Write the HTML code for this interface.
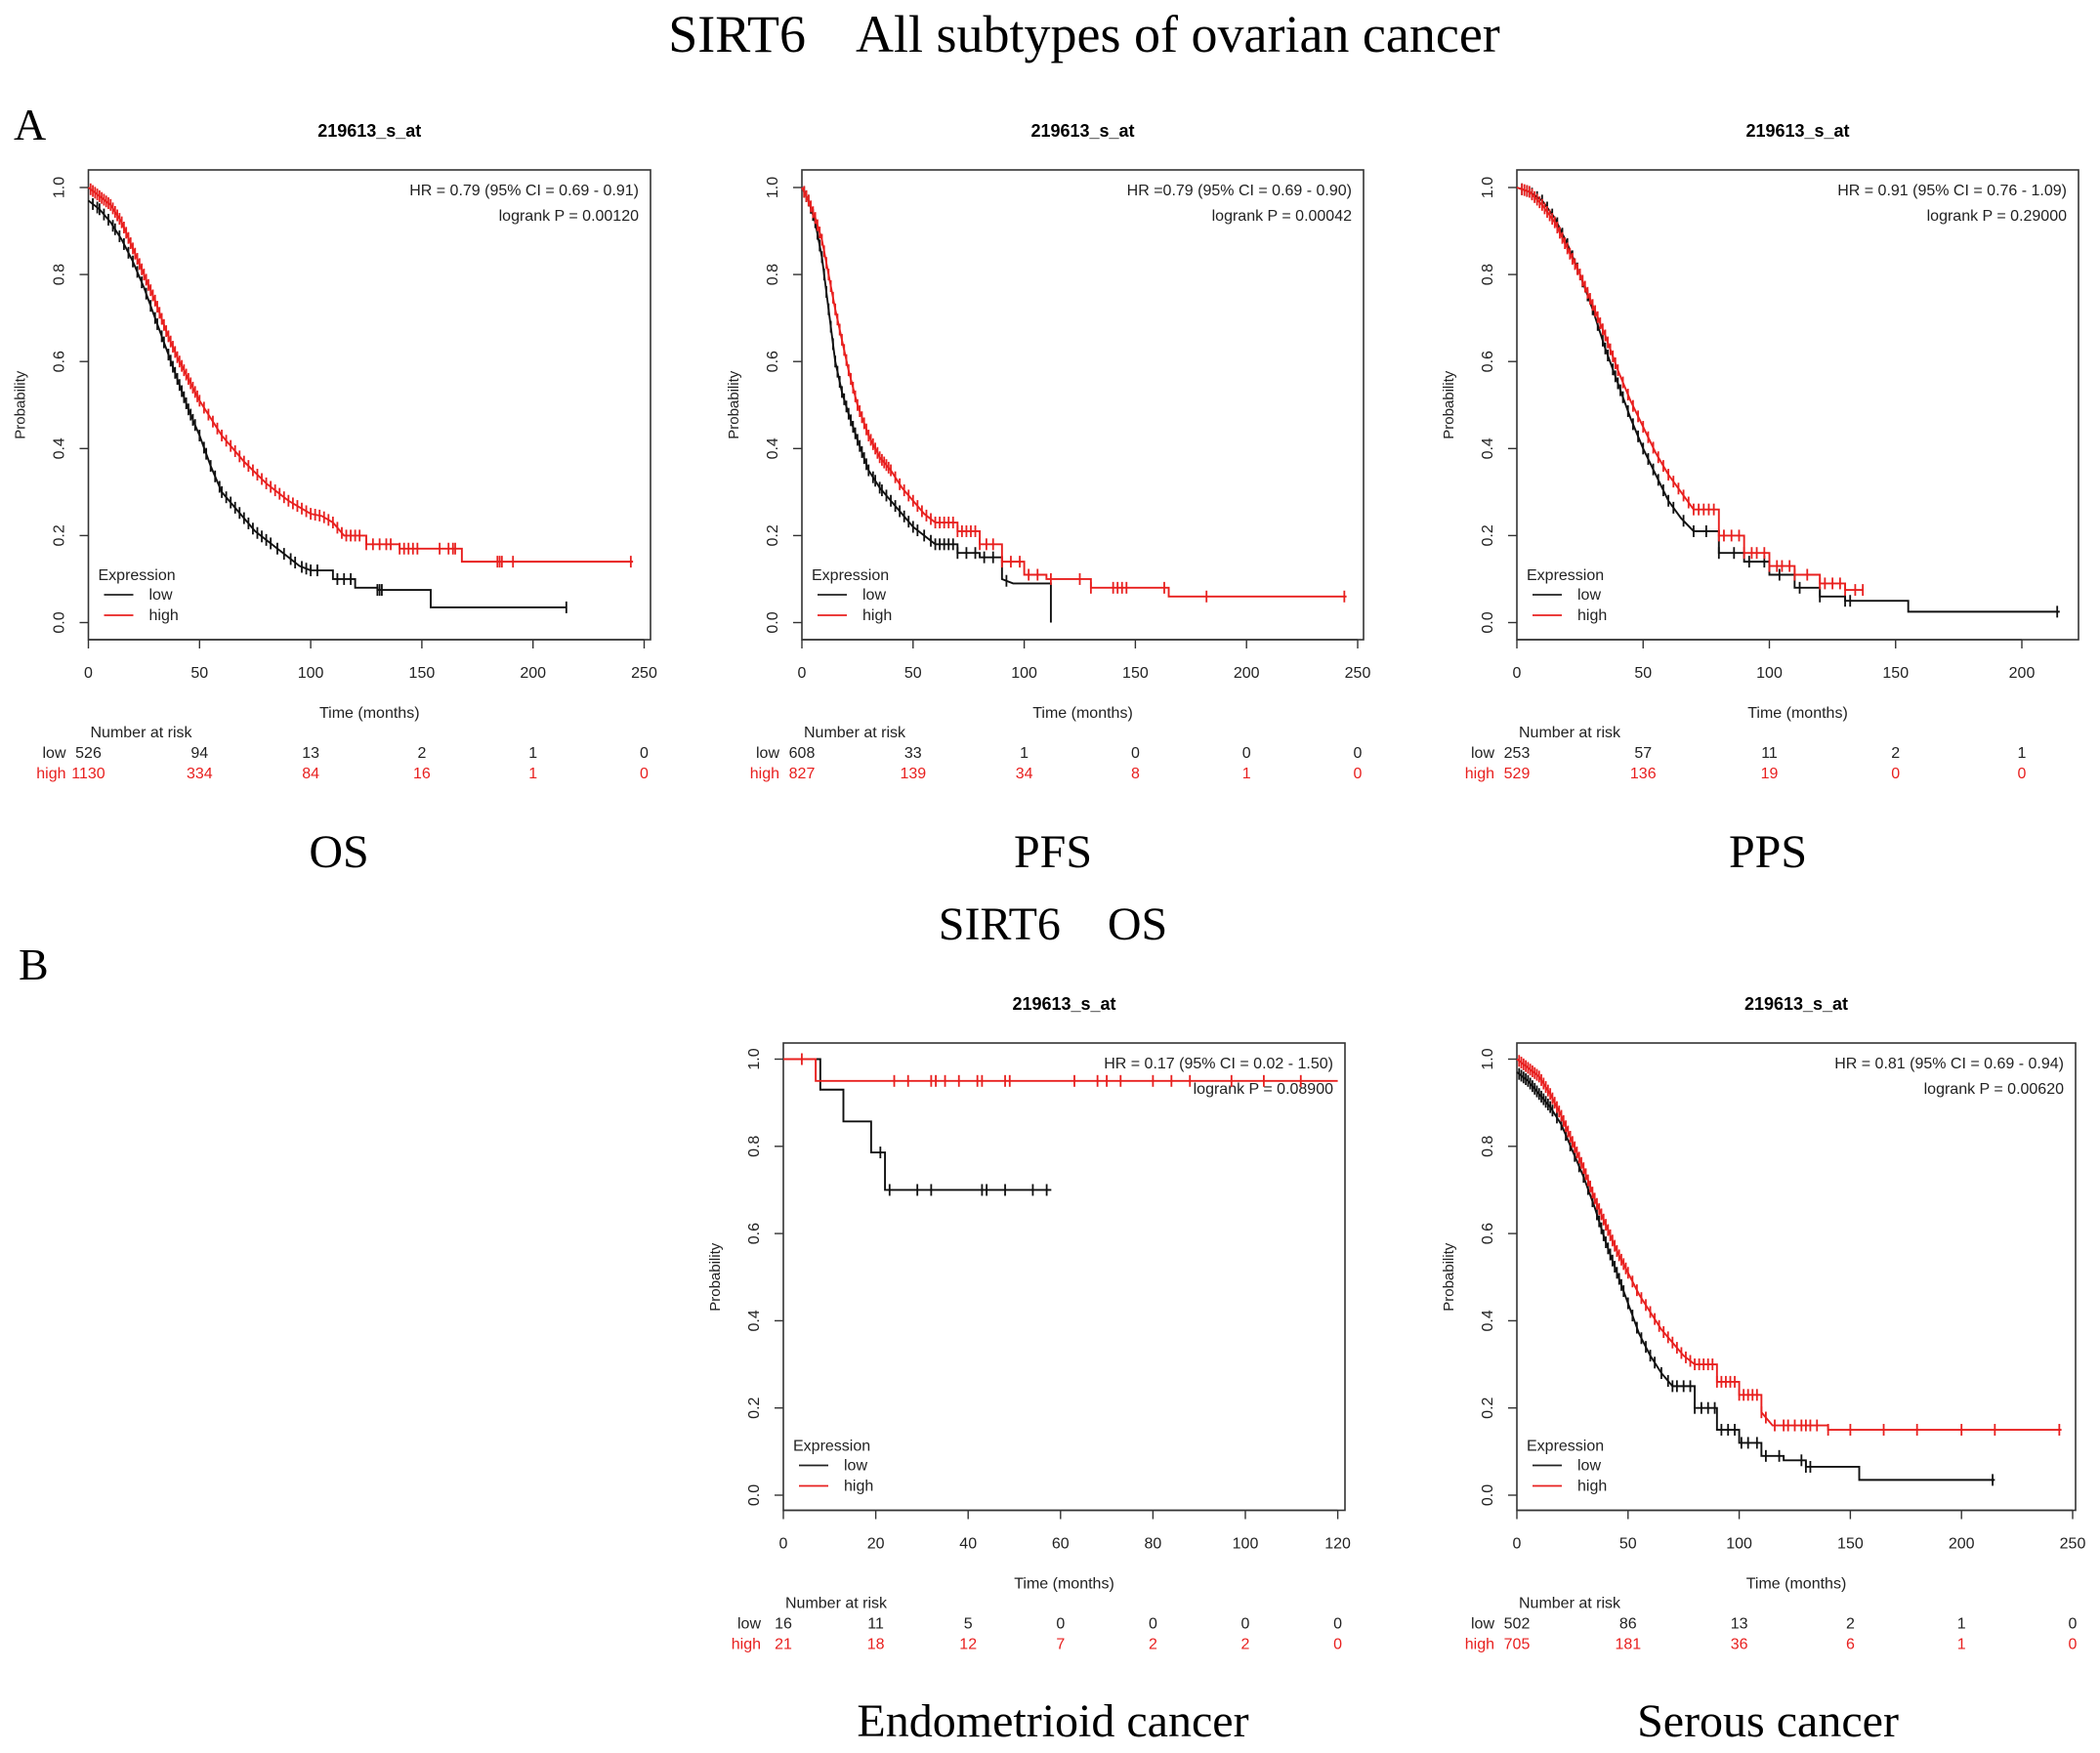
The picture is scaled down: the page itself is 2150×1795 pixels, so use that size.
<!DOCTYPE html>
<html><head><meta charset="utf-8"><style>
html,body{margin:0;padding:0;background:#fff}
svg{display:block}
text{font-family:"Liberation Sans",Arial,sans-serif}
.serif{font-family:"Liberation Serif","Times New Roman",serif;white-space:pre}
</style></head><body>
<svg id="fig" xmlns="http://www.w3.org/2000/svg" width="2150" height="1795" viewBox="0 0 2150 1795" xml:space="preserve">
<text class="serif" x="1110" y="53" font-size="54" text-anchor="middle">SIRT6    All subtypes of ovarian cancer</text>
<text class="serif" x="14" y="143" font-size="46">A</text>
<text class="serif" x="347" y="888" font-size="48" text-anchor="middle">OS</text>
<text class="serif" x="1078" y="888" font-size="48" text-anchor="middle">PFS</text>
<text class="serif" x="1810" y="888" font-size="48" text-anchor="middle">PPS</text>
<text class="serif" x="1078" y="962" font-size="48" text-anchor="middle">SIRT6    OS</text>
<text class="serif" x="19" y="1003" font-size="46">B</text>
<text class="serif" x="1078" y="1778" font-size="48" text-anchor="middle">Endometrioid cancer</text>
<text class="serif" x="1810" y="1778" font-size="48" text-anchor="middle">Serous cancer</text>
</svg>
<script>
// ---- OS ----
const osLowT=[0,5,10,15,20,25,30,35,40,45,50,55,60,65,70,75,80,85,90,95,100,110,120,130,154];
const osLowS=[0.97,0.95,0.92,0.88,0.83,0.77,0.70,0.63,0.56,0.49,0.43,0.36,0.30,0.27,0.24,0.21,0.19,0.17,0.15,0.13,0.12,0.10,0.08,0.075,0.035];
const osLowEnd=215;
const osLowC=[2,4,5,7,9,11,12,14,16,18,20,22,24,26,28,30,31,33,34,36,37,38,39,40,41,42,43,44,45,46,47,48,50,52,53,55,57,59,60,62,64,66,68,70,72,74,76,78,80,82,85,88,91,93,96,98,100,103,112,115,118,130,131,132,215];
const osHighT=[0,5,10,15,20,25,30,35,40,45,50,55,60,65,70,75,80,85,90,95,100,105,110,115,125,140,168];
const osHighS=[1.0,0.98,0.96,0.92,0.86,0.80,0.74,0.67,0.61,0.56,0.51,0.47,0.43,0.40,0.37,0.345,0.32,0.30,0.28,0.265,0.25,0.245,0.23,0.20,0.18,0.17,0.14];
const osHighEnd=245;
const osHighC=[1,2,3,4,5,6,7,8,9,10,11,12,13,14,15,16,17,18,19,20,21,22,23,24,25,26,27,28,29,30,31,32,33,34,35,36,37,38,39,40,41,42,43,44,45,46,47,48,49,50,52,54,56,58,60,62,64,66,68,70,72,74,76,78,80,82,84,86,88,90,92,94,96,98,100,102,104,106,108,110,112,114,116,118,120,122,125,128,131,134,136,140,142,144,146,148,158,162,164,165,184,185,186,191,244];
const osTicks=[0,50,100,150,200,250];
const osRiskLow=["526","94","13","2","1","0"];
const osRiskHigh=["1130","334","84","16","1","0"];
// ---- PFS ----
const pfsLowT=[0,3,6,9,12,15,18,21,25,30,35,40,45,50,55,60,70,80,90,95,112];
const pfsLowS=[1.0,0.97,0.92,0.84,0.72,0.60,0.53,0.48,0.42,0.35,0.31,0.28,0.25,0.22,0.20,0.18,0.16,0.15,0.10,0.09,0.0];
const pfsLowEnd=112;
const pfsLowC=[1,2,3,4,5,6,7,8,9,10,11,12,13,14,15,16,17,18,19,20,21,22,23,24,25,26,27,28,29,30,32,33,35,36,38,40,42,44,46,48,50,52,55,58,60,62,64,66,68,70,74,78,82,86,92];
const pfsHighT=[0,3,6,9,12,15,18,21,25,30,35,40,45,50,55,60,70,80,90,100,110,130,165];
const pfsHighS=[1.0,0.97,0.93,0.88,0.80,0.72,0.65,0.58,0.50,0.43,0.38,0.35,0.31,0.28,0.25,0.23,0.21,0.18,0.14,0.11,0.10,0.08,0.06];
const pfsHighEnd=245;
const pfsHighC=[1,2,3,4,5,6,7,8,9,10,11,12,13,14,15,16,17,18,19,20,21,22,23,24,25,26,27,28,29,30,31,32,33,34,35,36,37,38,39,40,42,44,46,48,50,52,54,56,58,60,62,64,66,68,70,72,74,76,78,80,83,86,90,94,98,102,106,112,125,130,140,142,144,146,163,182,244];
const pfsTicks=[0,50,100,150,200,250];
const pfsRiskLow=["608","33","1","0","0","0"];
const pfsRiskHigh=["827","139","34","8","1","0"];
// ---- PPS ----
const ppsLowT=[0,5,10,15,20,25,30,35,40,45,50,55,60,65,70,80,90,100,110,120,130,155];
const ppsLowS=[1.0,0.99,0.97,0.93,0.87,0.80,0.72,0.63,0.55,0.47,0.40,0.34,0.28,0.24,0.21,0.16,0.14,0.11,0.08,0.06,0.05,0.025];
const ppsLowEnd=215;
const ppsLowC=[2,4,6,8,10,12,14,16,18,20,22,24,26,28,30,32,34,35,36,38,39,40,41,42,44,46,48,50,52,54,56,58,60,62,66,70,75,80,86,92,98,104,112,120,130,132,214];
const ppsHighT=[0,5,10,15,20,25,30,35,40,45,50,55,60,65,70,80,90,100,110,120,130];
const ppsHighS=[1.0,0.99,0.96,0.92,0.86,0.80,0.73,0.66,0.58,0.51,0.45,0.39,0.34,0.30,0.26,0.20,0.16,0.13,0.11,0.09,0.075];
const ppsHighEnd=137;
const ppsHighC=[2,3,4,5,6,7,8,9,10,11,12,13,14,15,16,17,18,19,20,21,22,23,24,25,26,27,28,29,30,31,32,33,34,35,36,37,38,39,40,42,44,46,48,50,52,54,56,58,60,62,64,66,68,70,72,74,76,78,80,82,85,88,90,93,95,98,100,103,105,108,110,115,120,122,125,128,130,134,137];
const ppsTicks=[0,50,100,150,200];
const ppsRiskLow=["253","57","11","2","1"];
const ppsRiskHigh=["529","136","19","0","0"];
// ---- Endometrioid ----
const enLowT=[0,8,13,19,22];
const enLowS=[1.0,0.93,0.857,0.786,0.70];
const enLowEnd=58;
const enLowC=[21,23,29,32,43,44,48,54,57];
const enHighT=[0,7];
const enHighS=[1.0,0.95];
const enHighEnd=120;
const enHighC=[4,24,27,32,33,35,38,42,43,48,49,63,68,70,73,80,84,88,97,104,112];
const enTicks=[0,20,40,60,80,100,120];
const enRiskLow=["16","11","5","0","0","0","0"];
const enRiskHigh=["21","18","12","7","2","2","0"];
// ---- Serous ----
const seLowT=[0,5,10,15,20,25,30,35,40,45,50,55,60,65,70,80,90,100,110,120,130,154];
const seLowS=[0.97,0.95,0.92,0.89,0.85,0.79,0.73,0.66,0.58,0.51,0.44,0.37,0.32,0.28,0.25,0.20,0.15,0.12,0.09,0.08,0.065,0.035];
const seLowEnd=215;
const seLowC=[1,2,3,4,5,6,7,8,9,10,11,12,13,14,15,16,18,20,22,24,26,28,30,32,34,36,37,38,39,40,41,42,43,44,45,46,47,48,50,52,54,56,58,60,62,65,68,70,72,75,78,80,83,86,89,92,95,98,101,104,108,112,118,128,130,132,214];
const seHighT=[0,5,10,15,20,25,30,35,40,45,50,55,60,65,70,75,80,90,100,110,115,140];
const seHighS=[1.0,0.98,0.96,0.92,0.87,0.81,0.75,0.68,0.62,0.56,0.51,0.46,0.42,0.38,0.35,0.32,0.30,0.26,0.23,0.19,0.16,0.15];
const seHighEnd=245;
const seHighC=[1,2,3,4,5,6,7,8,9,10,11,12,13,14,15,16,17,18,19,20,21,22,23,24,25,26,27,28,29,30,31,32,33,34,35,36,37,38,39,40,41,42,43,44,45,46,47,48,49,50,52,54,56,58,60,62,64,66,68,70,72,74,76,78,80,82,84,86,88,90,92,94,96,98,100,102,104,106,108,110,112,116,120,122,125,128,130,132,135,140,150,165,180,200,215,244];
const seTicks=[0,50,100,150,200,250];
const seRiskLow=["502","86","13","2","1","0"];
const seRiskHigh=["705","181","36","6","1","0"];
const yTicks=[0,0.2,0.4,0.6,0.8,1.0];
const yTickLabels=["0.0","0.2","0.4","0.6","0.8","1.0"];

const NS='http://www.w3.org/2000/svg';
const svg=document.getElementById('fig');
function mk(tag,attrs,parent){const e=document.createElementNS(NS,tag);for(const k in attrs)e.setAttribute(k,attrs[k]);(parent||svg).appendChild(e);return e;}

const panels=[
 {id:'os',smooth:true,L:90.5,T:174,R:666,B:655,y1:192,y0:637.5,x0:90.5,xs:2.276,ticks:osTicks,rl:osRiskLow,rh:osRiskHigh,
  low:[osLowT,osLowS,osLowEnd,osLowC],high:[osHighT,osHighS,osHighEnd,osHighC],hr:'HR = 0.79 (95% CI = 0.69 - 0.91)',p:'logrank P =  0.00120'},
 {id:'pfs',smooth:true,L:821,T:174,R:1396,B:655,y1:192,y0:637.5,x0:821,xs:2.276,ticks:pfsTicks,rl:pfsRiskLow,rh:pfsRiskHigh,
  low:[pfsLowT,pfsLowS,pfsLowEnd,pfsLowC],high:[pfsHighT,pfsHighS,pfsHighEnd,pfsHighC],hr:'HR =0.79 (95% CI = 0.69 - 0.90)',p:'logrank P = 0.00042'},
 {id:'pps',smooth:true,L:1553,T:174,R:2128,B:655,y1:192,y0:637.5,x0:1553,xs:2.585,ticks:ppsTicks,rl:ppsRiskLow,rh:ppsRiskHigh,
  low:[ppsLowT,ppsLowS,ppsLowEnd,ppsLowC],high:[ppsHighT,ppsHighS,ppsHighEnd,ppsHighC],hr:'HR = 0.91 (95% CI = 0.76 - 1.09)',p:'logrank P =  0.29000'},
 {id:'endometrioid',smooth:false,L:802,T:1068,R:1377,B:1546.5,y1:1084.5,y0:1531,x0:802,xs:4.73,ticks:enTicks,rl:enRiskLow,rh:enRiskHigh,
  low:[enLowT,enLowS,enLowEnd,enLowC],high:[enHighT,enHighS,enHighEnd,enHighC],hr:'HR = 0.17 (95% CI = 0.02 - 1.50)',p:'logrank P =  0.08900'},
 {id:'serous',smooth:true,L:1553,T:1068,R:2125,B:1546.5,y1:1084.5,y0:1531,x0:1553,xs:2.276,ticks:seTicks,rl:seRiskLow,rh:seRiskHigh,
  low:[seLowT,seLowS,seLowEnd,seLowC],high:[seHighT,seHighS,seHighEnd,seHighC],hr:'HR = 0.81 (95% CI = 0.69 - 0.94)',p:'logrank P =  0.00620'}
];

function valAt(T,S,t,smooth){
 let i=0;while(i+1<T.length&&T[i+1]<=t)i++;
 if(smooth&&i+1<T.length&&T[i+1]-T[i]<8){const f=(t-T[i])/(T[i+1]-T[i]);return S[i]+(S[i+1]-S[i])*f;}
 return S[i];
}

panels.forEach(P=>{
 const g=mk('g',{});
 
 
 const X=v=>P.x0+v*P.xs, Y=v=>P.y0-(P.y0-P.y1)*v;
 const cx=(P.L+P.R)/2;
 const t=mk('text',{x:cx,y:P.T-34,'font-size':18,'font-weight':'bold','text-anchor':'middle'},g);t.textContent='219613_s_at';
 
 const box=mk('rect',{x:P.L,y:P.T,width:P.R-P.L,height:P.B-P.T,fill:'none',stroke:'#333','stroke-width':1.6},g);
 
 yTicks.forEach((v,i)=>{
  const l=mk('line',{x1:P.L,x2:P.L-9,y1:Y(v),y2:Y(v),stroke:'#333','stroke-width':1.4},g);
  
  const tx=mk('text',{x:0,y:0,'font-size':16,'text-anchor':'middle',fill:'#222',transform:`translate(${P.L-25},${Y(v)}) rotate(-90)`},g);
  tx.textContent=yTickLabels[i];
  
 });
 const yl=mk('text',{x:0,y:0,'font-size':15,'text-anchor':'middle',fill:'#222',transform:`translate(${P.L-65},${(P.y0+P.y1)/2}) rotate(-90)`},g);
 yl.textContent='Probability';
 const xa=mk('line',{x1:X(P.ticks[0]),x2:X(P.ticks[P.ticks.length-1]),y1:P.B,y2:P.B,stroke:'#333','stroke-width':1.4},g);
 
 P.ticks.forEach((v,i)=>{
  const l=mk('line',{x1:X(v),x2:X(v),y1:P.B,y2:P.B+9,stroke:'#333','stroke-width':1.4},g);
  
  const tx=mk('text',{x:X(v),y:P.B+39,'font-size':16,'text-anchor':'middle',fill:'#222'},g);tx.textContent=String(v);
  
  const a=mk('text',{x:X(v),y:P.B+121,'font-size':16,'text-anchor':'middle',fill:'#222'},g);a.textContent=P.rl[i];
  
  const b=mk('text',{x:X(v),y:P.B+142,'font-size':16,'text-anchor':'middle',fill:'#e8201f'},g);b.textContent=P.rh[i];
  
 });
 const xt=mk('text',{x:cx,y:P.B+80,'font-size':16,'text-anchor':'middle',fill:'#222'},g);xt.textContent='Time (months)';
 
 const nr=mk('text',{x:P.L+2,y:P.B+100,'font-size':16,fill:'#222'},g);nr.textContent='Number at risk';
 
 const lw=mk('text',{x:P.L-23,y:P.B+121,'font-size':16,'text-anchor':'end',fill:'#222'},g);lw.textContent='low';
 
 const hg=mk('text',{x:P.L-23,y:P.B+142,'font-size':16,'text-anchor':'end',fill:'#e8201f'},g);hg.textContent='high';
 
 const h1=mk('text',{x:P.R-12,y:P.T+26,'font-size':16,'text-anchor':'end',fill:'#222'},g);h1.textContent=P.hr;
 
 const h2=mk('text',{x:P.R-12,y:P.T+52,'font-size':16,'text-anchor':'end',fill:'#222'},g);h2.textContent=P.p;
 
 const le=mk('text',{x:P.L+10,y:P.B-61,'font-size':16,fill:'#222'},g);le.textContent='Expression';
 
 [['low','#222',-41],['high','#e8201f',-20]].forEach(([n,c,dy])=>{
  const l=mk('line',{x1:P.L+16,x2:P.L+46,y1:P.B+dy-5,y2:P.B+dy-5,stroke:c,'stroke-width':1.8},g);
  
  const tx=mk('text',{x:P.L+62,y:P.B+dy,'font-size':16,fill:'#222'},g);tx.textContent=n;
  
 });
 [['low','#111',P.low],['high','#e8201f',P.high]].forEach(([n,c,[T,S,end,C]])=>{
  let d=`M${X(T[0])},${Y(S[0])}`;
  for(let i=1;i<T.length;i++){
   if(P.smooth&&T[i]-T[i-1]<8){d+=`L${X(T[i])},${Y(S[i])}`;}
   else{d+=`H${X(T[i])}V${Y(S[i])}`;}
  }
  d+=`H${X(end)}`;
  const p=mk('path',{d:d,fill:'none',stroke:c,'stroke-width':1.9},g);
  
  C.forEach(ct=>{
   const yy=Y(valAt(T,S,ct,P.smooth));
   const m=mk('line',{x1:X(ct),x2:X(ct),y1:yy-6,y2:yy+6,stroke:c,'stroke-width':1.8},g);
   
  });
 });
});
</script>
</body></html>
